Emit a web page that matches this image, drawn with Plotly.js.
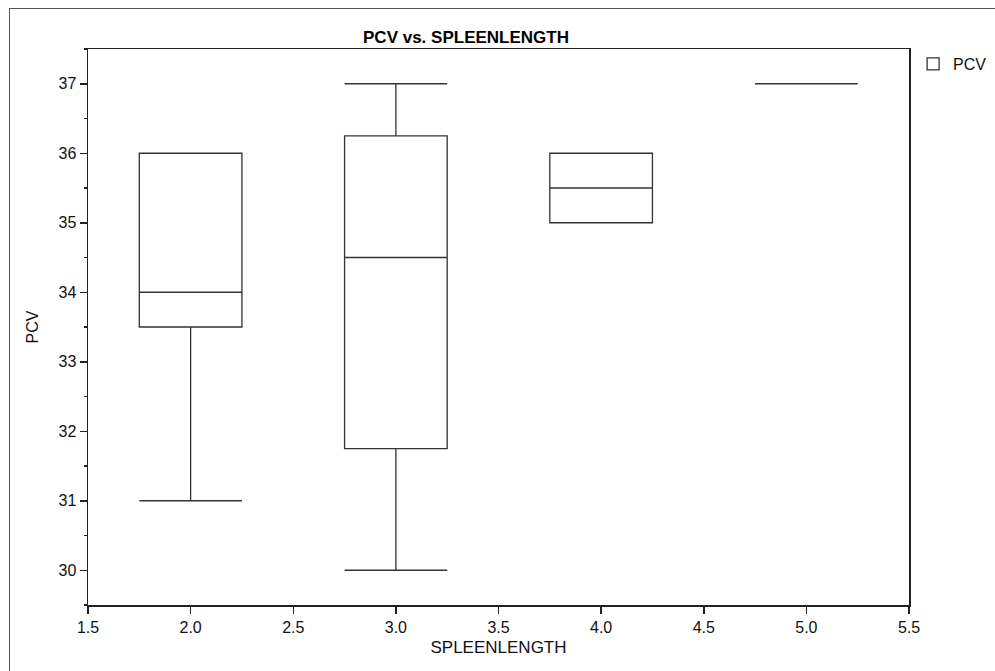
<!DOCTYPE html>
<html>
<head>
<meta charset="utf-8">
<script src="https://cdn.plot.ly/plotly-3.0.1.min.js"></script>
<style>
  html, body { margin: 0; padding: 0; background: #fff; }
  #frame { position: absolute; left: 9px; top: 8px; width: 1000px; height: 700px; border: 1px solid #555; box-sizing: border-box; }
  #chart { position: absolute; left: 0; top: 0; width: 995px; height: 671px; }
</style>
</head>
<body>
<div id="frame"></div>
<div id="chart"></div>
<script>
// Spleen length groups and PCV summary statistics per group
const spleenLength = [2, 3, 4, 5];
const pcvLowerWhisker = [31, 30, 35, 37];
const pcvQ1 = [33.5, 31.75, 35, 37];
const pcvMedian = [34, 34.5, 35.5, 37];
const pcvQ3 = [36, 36.25, 36, 37];
const pcvUpperWhisker = [36, 37, 36, 37];

const xTickVals = [1.5, 2.0, 2.5, 3.0, 3.5, 4.0, 4.5, 5.0, 5.5];
const yTickVals = [30, 31, 32, 33, 34, 35, 36, 37];

const font = 'Liberation Sans, Arial, sans-serif';
const ink = '#222';

const trace = {
  type: 'box',
  name: 'PCV',
  x: spleenLength,
  q1: pcvQ1,
  median: pcvMedian,
  q3: pcvQ3,
  lowerfence: pcvLowerWhisker,
  upperfence: pcvUpperWhisker,
  width: 0.5,
  whiskerwidth: 1,
  boxpoints: false,
  fillcolor: 'rgba(255,255,255,0)',
  line: { color: '#333', width: 1.3 },
  hoverinfo: 'skip'
};

const layout = {
  width: 995,
  height: 671,
  margin: { l: 88, r: 86, t: 49, b: 66, autoexpand: false },
  paper_bgcolor: 'rgba(0,0,0,0)',
  plot_bgcolor: '#fff',
  font: { family: font, size: 16, color: '#111' },
  title: {
    text: '<b>PCV vs. SPLEENLENGTH</b>',
    font: { family: font, size: 17, color: '#000' },
    xref: 'container', x: 466 / 995, xanchor: 'center',
    yref: 'container', y: 1 - 37 / 671, yanchor: 'middle'
  },
  xaxis: {
    range: [1.5, 5.5],
    tickvals: xTickVals,
    ticktext: xTickVals.map(v => v.toFixed(1)),
    ticks: 'outside', ticklen: 7, tickwidth: 1.5, tickcolor: ink,
    showline: true, linecolor: ink, linewidth: 1.5, mirror: true,
    showgrid: false, zeroline: false,
    tickfont: { family: font, size: 16, color: '#111' },
    title: { text: 'SPLEENLENGTH', font: { family: font, size: 17, color: '#111' }, standoff: 6 }
  },
  yaxis: {
    range: [29.5, 37.5],
    tickvals: yTickVals,
    ticks: 'outside', ticklen: 7, tickwidth: 1.5, tickcolor: ink,
    minor: { dtick: 0.5, tick0: 29.5, ticks: 'outside', ticklen: 3, tickwidth: 1.5, tickcolor: ink, showgrid: false },
    showline: true, linecolor: ink, linewidth: 1.5, mirror: true,
    showgrid: false, zeroline: false,
    tickfont: { family: font, size: 16, color: '#111' },
    title: { text: 'PCV', font: { family: font, size: 16, color: '#111' }, standoff: 16 }
  },
  showlegend: true,
  legend: {
    x: 1.005, xanchor: 'left', y: 1 + 2 / 556, yanchor: 'top',
    font: { family: font, size: 16, color: '#111' },
    bgcolor: 'rgba(0,0,0,0)', itemwidth: 30
  }
};

Plotly.newPlot('chart', [trace], layout, { staticPlot: true, displayModeBar: false });
</script>
</body>
</html>
